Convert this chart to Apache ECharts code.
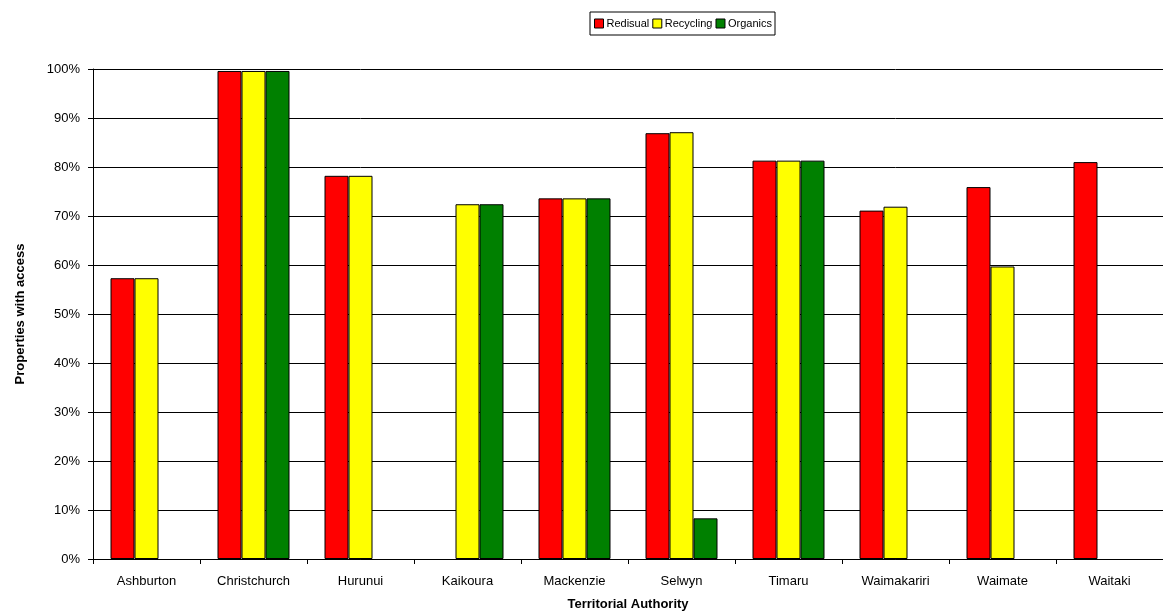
<!DOCTYPE html>
<html>
<head>
<meta charset="utf-8">
<script src="https://cdn.jsdelivr.net/npm/echarts@6/dist/echarts.min.js"></script>
<style>
  html, body { margin: 0; padding: 0; background: #fff; }
  #chart { width: 1163px; height: 616px; }
</style>
</head>
<body>
<div id="chart"></div>
<script>
// Territorial authorities (x-axis categories)
const categories = ['Ashburton', 'Christchurch', 'Hurunui', 'Kaikoura', 'Mackenzie',
                    'Selwyn', 'Timaru', 'Waimakariri', 'Waimate', 'Waitaki'];

// Share of properties with kerbside access (0..1); null = no service
const residual  = [0.573, 0.996, 0.782, null,  0.736, 0.869, 0.813, 0.711, 0.759, 0.810];
const recycling = [0.573, 0.996, 0.782, 0.724, 0.736, 0.871, 0.813, 0.719, 0.597, null];
const organics  = [null,  0.996, null,  0.724, 0.736, 0.083, 0.813, null,  null,  null];

const seriesNames = ['Redisual', 'Recycling', 'Organics'];
const seriesColors = ['#FF0000', '#FFFF00', '#008000'];

const FONT = 'Liberation Sans, Arial, sans-serif';

const chart = echarts.init(document.getElementById('chart'), null, { renderer: 'canvas' });

function barSeries(name, data, color) {
  return {
    name: name,
    type: 'bar',
    data: data,
    barWidth: 24,
    barGap: '0%',
    itemStyle: { color: color, borderColor: '#000', borderWidth: 1 },
    emphasis: { disabled: true }
  };
}

chart.setOption({
  animation: false,
  backgroundColor: '#fff',
  textStyle: { fontFamily: FONT, color: '#000' },
  legend: {
    top: 12,
    left: 590,
    orient: 'horizontal',
    icon: 'rect',
    itemWidth: 9,
    itemHeight: 9,
    itemGap: 3,
    padding: [6, 3, 6, 4],
    borderColor: '#000',
    borderWidth: 1,
    textStyle: { fontFamily: FONT, fontSize: 11, color: '#000', padding: [0, 0, 0, -2] },
    itemStyle: { borderColor: '#000', borderWidth: 1 },
    data: seriesNames
  },
  grid: { left: 93, right: -10, top: 69, bottom: 57, containLabel: false },
  xAxis: {
    type: 'category',
    data: categories,
    boundaryGap: true,
    name: 'Territorial Authority',
    nameLocation: 'middle',
    nameGap: 39,
    nameTextStyle: { fontFamily: FONT, fontSize: 13, fontWeight: 'bold', color: '#000' },
    axisLine: { lineStyle: { color: '#000', width: 1 } },
    axisTick: { show: true, length: 5, alignWithLabel: false, lineStyle: { color: '#000' } },
    axisLabel: { fontFamily: FONT, fontSize: 13, color: '#000', margin: 16, interval: 0 },
    splitLine: { show: false }
  },
  yAxis: {
    type: 'value',
    min: 0,
    max: 1,
    interval: 0.1,
    name: 'Properties with access',
    nameLocation: 'middle',
    nameGap: 66,
    nameRotate: 90,
    nameTextStyle: { fontFamily: FONT, fontSize: 13, fontWeight: 'bold', color: '#000' },
    axisLine: { show: true, lineStyle: { color: '#000', width: 1 } },
    axisTick: { show: true, length: 5, lineStyle: { color: '#000' } },
    axisLabel: {
      fontFamily: FONT, fontSize: 13, color: '#000', margin: 13,
      formatter: v => Math.round(v * 100) + '%'
    },
    splitLine: { show: true, lineStyle: { color: '#000', width: 1 } }
  },
  series: [
    barSeries(seriesNames[0], residual, seriesColors[0]),
    barSeries(seriesNames[1], recycling, seriesColors[1]),
    barSeries(seriesNames[2], organics, seriesColors[2])
  ]
});
</script>
</body>
</html>
